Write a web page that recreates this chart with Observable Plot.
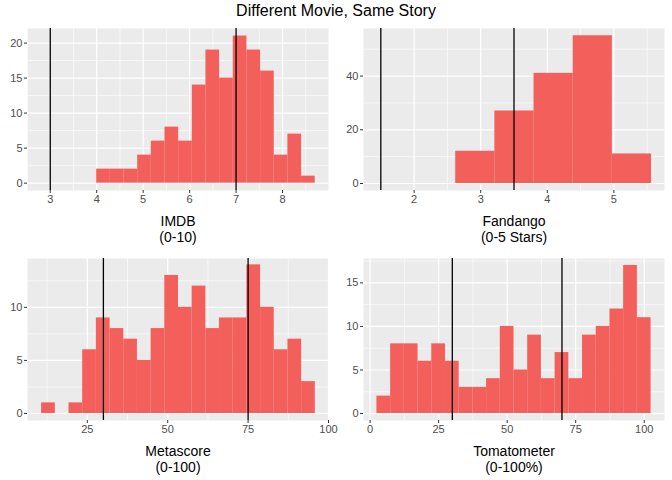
<!DOCTYPE html>
<html><head>
<script src="https://cdn.jsdelivr.net/npm/d3@7"></script>
<script src="https://cdn.jsdelivr.net/npm/@observablehq/plot@0.6"></script>
<style>
body{margin:0;background:#fff;font-family:"Liberation Sans",Arial,sans-serif}
#wrap{position:relative;width:672px;height:480px}
#title{position:absolute;top:2px;left:0;width:672px;text-align:center;font-size:16px;color:#000}
.p{position:absolute}
</style></head><body>
<div id="wrap"><div id="title">Different Movie, Same Story</div></div>
<script>
// IMDB
const imdbStart = 4.0, imdbWidth = 0.294;
const imdbCounts = [2,2,2,4,6,8,6,14,19,15,21,19,16,4,7,1];
const imdbLines = [3,7];
// Fandango
const fanStart = 2.625, fanWidth = 0.588;
const fanCounts = [12,27,41,55,11];
const fanLines = [1.5,3.5];
// Metascore
const metaStart = 10.8, metaWidth = 4.255;
const metaCounts = [1,0,1,6,9,8,7,5,8,13,10,12,8,9,9,14,10,6,7,3];
const metaLines = [30,75];
// Tomatometer
const tomStart = 2.5, tomWidth = 5;
const tomCounts = [2,8,8,6,8,6,3,3,4,10,5,9,4,7,4,9,10,12,17,11];
const tomLines = [30,70];

const panels = [
  {left:0, top:22, start:imdbStart, w:imdbWidth, counts:imdbCounts, lines:imdbLines,
   xd:[2.51,8.99], yd:[-1.05,22.08], xt:[3,4,5,6,7,8], xm:[2.5,3.5,4.5,5.5,6.5,7.5,8.5], yt:[0,5,10,15,20], ym:[2.5,7.5,12.5,17.5],
   label:["IMDB","(0-10)"]},
  {left:336, top:22, start:fanStart, w:fanWidth, counts:fanCounts, lines:fanLines,
   xd:[1.24,5.76], yd:[-2.6,57.7], xt:[2,3,4,5], xm:[1.5,2.5,3.5,4.5,5.5], yt:[0,20,40], ym:[10,30,50],
   label:["Fandango","(0-5 Stars)"]},
  {left:0, top:252, start:metaStart, w:metaWidth, counts:metaCounts, lines:metaLines,
   xd:[6.4,100], yd:[-0.66,14.6], xt:[25,50,75,100], xm:[12.5,37.5,62.5,87.5], yt:[0,5,10], ym:[2.5,7.5,12.5],
   label:["Metascore","(0-100)"]},
  {left:336, top:252, start:tomStart, w:tomWidth, counts:tomCounts, lines:tomLines,
   xd:[-2.4,107.4], yd:[-0.8,17.8], xt:[0,25,50,75,100], xm:[12.5,37.5,62.5,87.5], yt:[0,5,10,15], ym:[2.5,7.5,12.5,17.5],
   label:["Tomatometer","(0-100%)"]}
];

const wrap = document.getElementById("wrap");
for (const p of panels) {
  const bins = p.counts.map((c,i)=>({x1:p.start+i*p.w, x2:p.start+(i+1)*p.w, y:c}));
  const H = p.top===22 ? 226 : 228;
  const panelH = p.top===22 ? 162 : 162;
  const mt = p.top===22 ? 6 : 6;
  const chart = Plot.plot({
    width:336, height:H,
    marginLeft:27, marginRight:8, marginTop:mt, marginBottom:H-mt-panelH,
    x:{domain:p.xd}, y:{domain:p.yd},
    style:{fontFamily:"Liberation Sans, Arial, sans-serif", fontSize:"11px", overflow:"visible"},
    marks:[
      Plot.frame({fill:"#ebebeb", stroke:null}),
      Plot.ruleX(p.xm,{stroke:"#fff", strokeWidth:0.6}),
      Plot.ruleY(p.ym,{stroke:"#fff", strokeWidth:0.6}),
      Plot.ruleX(p.xt,{stroke:"#fff", strokeWidth:1.2}),
      Plot.ruleY(p.yt,{stroke:"#fff", strokeWidth:1.2}),
      Plot.rectY(bins,{x1:"x1", x2:"x2", y:"y", fill:"#f35f5a"}),
      Plot.ruleX(p.lines,{stroke:"#000", strokeWidth:1.3}),
      Plot.axisX(p.xt,{label:null, tickSize:3, tickPadding:2, stroke:"#333", fill:"#4d4d4d", fontSize:11}),
      Plot.axisY(p.yt,{label:null, tickSize:3, tickPadding:2, stroke:"#333", fill:"#4d4d4d", fontSize:11}),
      Plot.text([p.label[0]],{frameAnchor:"bottom", dy:35, fill:"#000", fontSize:14}),
      Plot.text([p.label[1]],{frameAnchor:"bottom", dy:51, fill:"#000", fontSize:14})
    ]
  });
  chart.classList.add("p");
  chart.style.left = p.left+"px";
  chart.style.top = p.top+"px";
  wrap.appendChild(chart);
}
</script>
</body></html>
